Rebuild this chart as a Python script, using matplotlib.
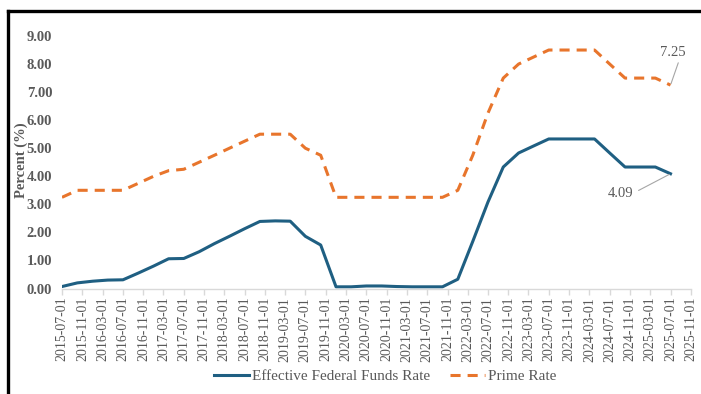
import matplotlib
matplotlib.use("Agg")
import matplotlib.pyplot as plt
import pandas as pd
from matplotlib.lines import Line2D

# quarterly observations
dates = pd.date_range("2015-07-01", "2025-07-01", freq="3MS")

effr = [0.07, 0.20, 0.26, 0.30,
        0.31, 0.55, 0.80, 1.06,
        1.07, 1.31, 1.60, 1.86,
        2.13, 2.39, 2.41, 2.40,
        1.86, 1.55, 0.06, 0.06,
        0.09, 0.09, 0.07, 0.06,
        0.06, 0.06, 0.33, 1.68,
        3.08, 4.33, 4.83, 5.08,
        5.33, 5.33, 5.33, 5.33,
        4.83, 4.33, 4.33, 4.33,
        4.09]

prime = [3.25, 3.50, 3.50, 3.50,
         3.50, 3.75, 4.00, 4.20,
         4.25, 4.50, 4.75, 5.00,
         5.25, 5.50, 5.50, 5.50,
         5.00, 4.75, 3.25, 3.25,
         3.25, 3.25, 3.25, 3.25,
         3.25, 3.25, 3.50, 4.75,
         6.25, 7.50, 8.00, 8.25,
         8.50, 8.50, 8.50, 8.50,
         8.00, 7.50, 7.50, 7.50,
         7.25]

tick_dates = pd.date_range("2015-07-01", "2025-11-01", freq="4MS")
y_ticks = [0, 1, 2, 3, 4, 5, 6, 7, 8, 9]

BLUE = "#1f5f82"
ORANGE = "#e8752c"
GRAY = "#595959"

plt.rcParams["font.family"] = ["Liberation Serif", "DejaVu Serif"]

fig = plt.figure(figsize=(7.01, 3.94), dpi=100)
ax = fig.add_axes([62 / 701, 1 - 288.5 / 394, 629 / 701, 252.5 / 394])

ax.plot(dates, effr, color=BLUE, lw=2.2, solid_joinstyle="round",
        label="Effective Federal Funds Rate")
ax.plot(dates, prime, color=ORANGE, lw=2.2, dashes=(3.3, 2.3),
        label="Prime Rate")

ax.set_xlim(tick_dates[0], tick_dates[-1])
ax.set_ylim(0, 9)
ax.set_xticks(tick_dates)
ax.set_xticklabels([d.strftime("%Y-%m-%d") for d in tick_dates],
                   rotation=90, fontsize=10, color=GRAY)
ax.set_yticks(y_ticks)
ax.set_yticklabels([f"{v:.2f}" for v in y_ticks], fontsize=10.5,
                   color=GRAY, fontweight="bold")

for s in ["top", "right", "left"]:
    ax.spines[s].set_visible(False)
ax.spines["bottom"].set_color("#d9d9d9")
ax.spines["bottom"].set_linewidth(1)
ax.tick_params(axis="x", colors="#d9d9d9", length=4, width=1, pad=2,
               labelcolor=GRAY)
ax.tick_params(axis="y", length=0, pad=7)

ax.set_ylabel("Percent (%)", fontsize=10.5, color=GRAY, fontweight="bold")
ax.yaxis.set_label_coords(-34 / 629, 0.51)

ax.annotate(f"{prime[-1]:.2f}", xy=(dates[-1], prime[-1]), xytext=(2, 19),
            textcoords="offset points", ha="center", va="bottom",
            fontsize=10.5, color=GRAY,
            arrowprops=dict(arrowstyle="-", color="#a6a6a6", lw=0.8,
                            relpos=(0.75, 0), shrinkA=1, shrinkB=1))
ax.annotate(f"{effr[-1]:.2f}", xy=(dates[-1], effr[-1]), xytext=(-36, -14),
            textcoords="offset points", ha="center", va="center",
            fontsize=10.5, color=GRAY,
            arrowprops=dict(arrowstyle="-", color="#a6a6a6", lw=0.8,
                            relpos=(1, 0.5), shrinkA=2, shrinkB=1))

leg = fig.legend(loc="center", bbox_to_anchor=(385 / 701, 1 - 376 / 394),
                 ncol=2, frameon=False, fontsize=11, handlelength=2.3,
                 columnspacing=1.3, handletextpad=0.2)
for t in leg.get_texts():
    t.set_color(GRAY)

# outer frame of the chart box
fig.add_artist(Line2D([8 / 701, 1], [1 - 10.5 / 394, 1 - 10.5 / 394],
                      transform=fig.transFigure, color="black", lw=2.4))
fig.add_artist(Line2D([8 / 701, 8 / 701], [0, 1 - 10.5 / 394],
                      transform=fig.transFigure, color="black", lw=2.4))

fig.savefig("out.png", dpi=100)
